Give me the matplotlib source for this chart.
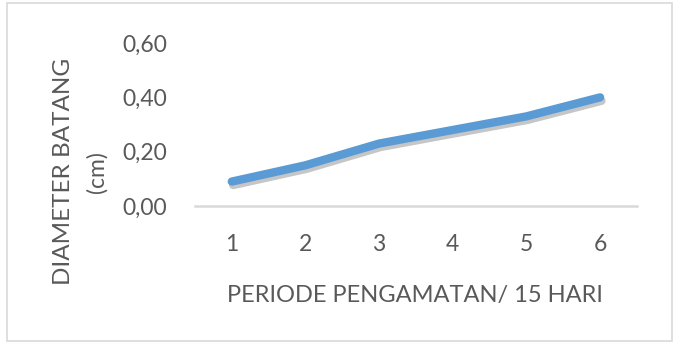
import matplotlib.pyplot as plt
import matplotlib.patheffects as pe
from matplotlib.patches import Rectangle

periode = [1, 2, 3, 4, 5, 6]
diameter = [0.09, 0.15, 0.23, 0.28, 0.33, 0.40]
y_ticks = [0.0, 0.2, 0.4, 0.6]
y_labels = ["0,00", "0,20", "0,40", "0,60"]

GRAY = "#595959"


def main():
    plt.rcParams["font.family"] = ["Lato", "DejaVu Sans"]
    fig = plt.figure(figsize=(6.81, 3.54), dpi=100)

    # chart border
    fig.patches.append(Rectangle((7 / 681, 13 / 354), 665 / 681, 338 / 354,
                                 transform=fig.transFigure, fill=False,
                                 edgecolor="#d9d9d9", linewidth=1.2))

    ax = fig.add_axes([0.2863, 0.418, 0.649, 0.4605])
    ax.plot(periode, diameter, color="#5b9bd5", linewidth=6,
            solid_capstyle="round", solid_joinstyle="round",
            path_effects=[pe.SimpleLineShadow(offset=(1, -2.5), alpha=0.3, shadow_color="#444444"),
                          pe.Normal()])

    ax.set_xlim(0.5, 6.5)
    ax.set_ylim(0, 0.6)
    ax.set_xticks(periode)
    ax.set_xticklabels([str(p) for p in periode])
    ax.set_yticks(y_ticks)
    ax.set_yticklabels(y_labels)
    ax.tick_params(length=0, labelsize=16.5, colors=GRAY)
    ax.tick_params(axis="x", pad=20)
    ax.tick_params(axis="y", pad=20)

    for s in ["top", "right", "left"]:
        ax.spines[s].set_visible(False)
    ax.spines["bottom"].set_color("#d9d9d9")
    ax.spines["bottom"].set_linewidth(1.8)
    for line in ax.get_lines():
        line.set_clip_on(False)

    fig.text(0.61, 0.165, "PERIODE PENGAMATAN/ 15 HARI", ha="center", va="center",
             fontsize=17, color=GRAY)
    fig.text(0.093, 0.515, "DIAMETER BATANG", rotation=90, ha="center", va="center",
             fontsize=17.5, color=GRAY)
    fig.text(0.142, 0.515, "(cm)", rotation=90, ha="center", va="center",
             fontsize=16.5, color=GRAY)

    fig.savefig("out.png", dpi=100)


if __name__ == "__main__":
    main()
